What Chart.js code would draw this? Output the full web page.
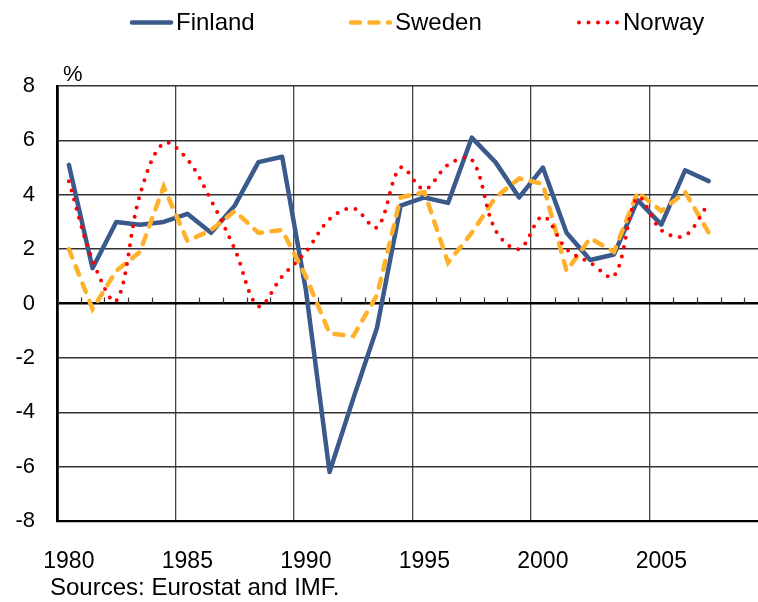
<!DOCTYPE html>
<html>
<head>
<meta charset="utf-8">
<script src="https://cdn.jsdelivr.net/npm/chart.js@4"></script>
<style>
    html, body { margin: 0; padding: 0; background: #fff; overflow: hidden; }
    /* the plot runs past the right edge of the window, as in the source image */
    #wrap { position: relative; width: 772px; height: 602px; }
</style>
</head>
<body>
<div id="wrap"><canvas id="growthChart"></canvas></div>
<script>
// Real GDP growth, % per year
const years = ['1980', '1981', '1982', '1983', '1984', '1985', '1986', '1987', '1988', '1989',
               '1990', '1991', '1992', '1993', '1994', '1995', '1996', '1997', '1998', '1999',
               '2000', '2001', '2002', '2003', '2004', '2005', '2006', '2007', '2008', '2009'];

const finland = [5.1, 1.3, 3.0, 2.9, 3.0, 3.3, 2.6, 3.6, 5.2, 5.4,
                 0.5, -6.2, -3.5, -0.9, 3.6, 3.9, 3.7, 6.1, 5.2, 3.9,
                 5.0, 2.6, 1.6, 1.8, 3.8, 2.9, 4.9, 4.5];
const sweden = [2.0, -0.2, 1.2, 1.9, 4.3, 2.3, 2.7, 3.4, 2.6, 2.7,
                1.0, -1.1, -1.2, 0.3, 3.9, 4.1, 1.5, 2.6, 3.9, 4.6,
                4.4, 1.2, 2.4, 1.9, 4.1, 3.4, 4.1, 2.6];
const norway = [4.5, 1.6, 0.1, 4.0, 5.9, 5.3, 3.8, 2.0, -0.1, 1.0,
                1.9, 3.1, 3.5, 2.8, 5.0, 4.2, 5.1, 5.3, 2.7, 2.0,
                3.2, 2.0, 1.5, 1.0, 3.9, 2.7, 2.5, 3.7];

const yTicks = [-8, -6, -4, -2, 0, 2, 4, 6, 8];
const unitLabel = '%';
const sourceNote = 'Sources: Eurostat and IMF.';

const FONT = '"Liberation Sans", Arial, sans-serif';
const legendStartX = [130, 349, 577];

// legend, unit label, source line and the small ticks on the zero line
const extras = {
    id: 'extras',
    beforeDatasetsDraw(chart) {
        const { ctx, scales: { x, y } } = chart;
        const y0 = y.getPixelForValue(0);
        const half = (x.getPixelForValue(1) - x.getPixelForValue(0)) / 2;
        ctx.save();
        ctx.strokeStyle = '#333';
        ctx.lineWidth = 1.2;
        for (let i = 1; i < years.length; i++) {
            if (i % 5 === 0) continue;
            const px = Math.round(x.getPixelForValue(i) - half) + 0.5;
            ctx.beginPath();
            ctx.moveTo(px, y0);
            ctx.lineTo(px, y0 - 6);
            ctx.stroke();
        }
        ctx.restore();
    },
    afterDraw(chart) {
        const { ctx, chartArea } = chart;
        ctx.save();

        // legend
        chart.data.datasets.forEach((ds, i) => {
            const x0 = legendStartX[i];
            ctx.strokeStyle = ds.borderColor;
            ctx.lineWidth = ds.borderWidth;
            ctx.lineCap = ds.borderCapStyle || 'butt';
            ctx.setLineDash(ds.borderDash || []);
            ctx.beginPath();
            ctx.moveTo(x0 + 2, 22.5);
            ctx.lineTo(x0 + 41, 22.5);
            ctx.stroke();
            ctx.setLineDash([]);
            ctx.fillStyle = '#000';
            ctx.font = '24px ' + FONT;
            ctx.textAlign = 'left';
            ctx.textBaseline = 'middle';
            ctx.fillText(ds.label, x0 + 46, 23);
        });

        ctx.fillStyle = '#000';
        ctx.textBaseline = 'middle';
        ctx.font = '22px ' + FONT;
        ctx.fillText(unitLabel, chartArea.left + 6, 75);

        ctx.font = '24px ' + FONT;
        ctx.fillText(sourceNote, 50, 588);
        ctx.restore();
    }
};

new Chart(document.getElementById('growthChart'), {
    type: 'line',
    data: {
        labels: years,
        datasets: [
            {
                label: 'Finland',
                data: finland,
                borderColor: '#3a5a8c',
                borderWidth: 4.5,
                borderCapStyle: 'round',
                borderJoinStyle: 'round',
                tension: 0,
                order: 3
            },
            {
                label: 'Sweden',
                data: sweden,
                borderColor: '#ffb12b',
                borderWidth: 4.5,
                borderDash: [9, 9.5],
                borderCapStyle: 'round',
                tension: 0,
                order: 2
            },
            {
                label: 'Norway',
                data: norway,
                borderColor: '#ff0000',
                borderWidth: 4,
                borderDash: [0, 9.5],
                borderCapStyle: 'round',
                tension: 0.35,
                order: 1
            }
        ]
    },
    options: {
        responsive: true,
        maintainAspectRatio: false,
        animation: false,
        layout: { padding: { top: 86, right: 4, left: 0, bottom: 0 } },
        elements: { point: { radius: 0, hoverRadius: 0 } },
        plugins: {
            legend: { display: false },
            tooltip: { enabled: false }
        },
        scales: {
            x: {
                type: 'category',
                offset: true,
                grid: {
                    offset: true,
                    drawTicks: true,
                    tickLength: 27,
                    tickColor: 'rgba(0,0,0,0)',
                    color: c => (c.index % 5 === 0 ? '#444' : 'rgba(0,0,0,0)'),
                    lineWidth: 1.3
                },
                border: { display: true, color: '#000', width: 2.2 },
                ticks: {
                    autoSkip: false,
                    maxRotation: 0,
                    padding: 0,
                    color: '#000',
                    font: { family: FONT, size: 23 },
                    callback: (v, i) => (i % 5 === 0 ? years[i] : '')
                },
                afterFit: s => { s.height = 81; }
            },
            y: {
                min: yTicks[0],
                max: yTicks[yTicks.length - 1],
                afterBuildTicks: s => { s.ticks = yTicks.map(v => ({ value: v })); },
                grid: {
                    drawTicks: false,
                    color: c => (c.tick && c.tick.value === 0 ? '#000' : '#333'),
                    lineWidth: c => (c.tick && c.tick.value === 0 ? 2.4 : 1.4)
                },
                border: { display: true, color: '#000', width: 2.8 },
                ticks: {
                    padding: 22,
                    color: '#000',
                    font: { family: FONT, size: 22 }
                },
                afterFit: s => { s.width = 57; }
            }
        }
    },
    plugins: [extras]
});
</script>
</body>
</html>
